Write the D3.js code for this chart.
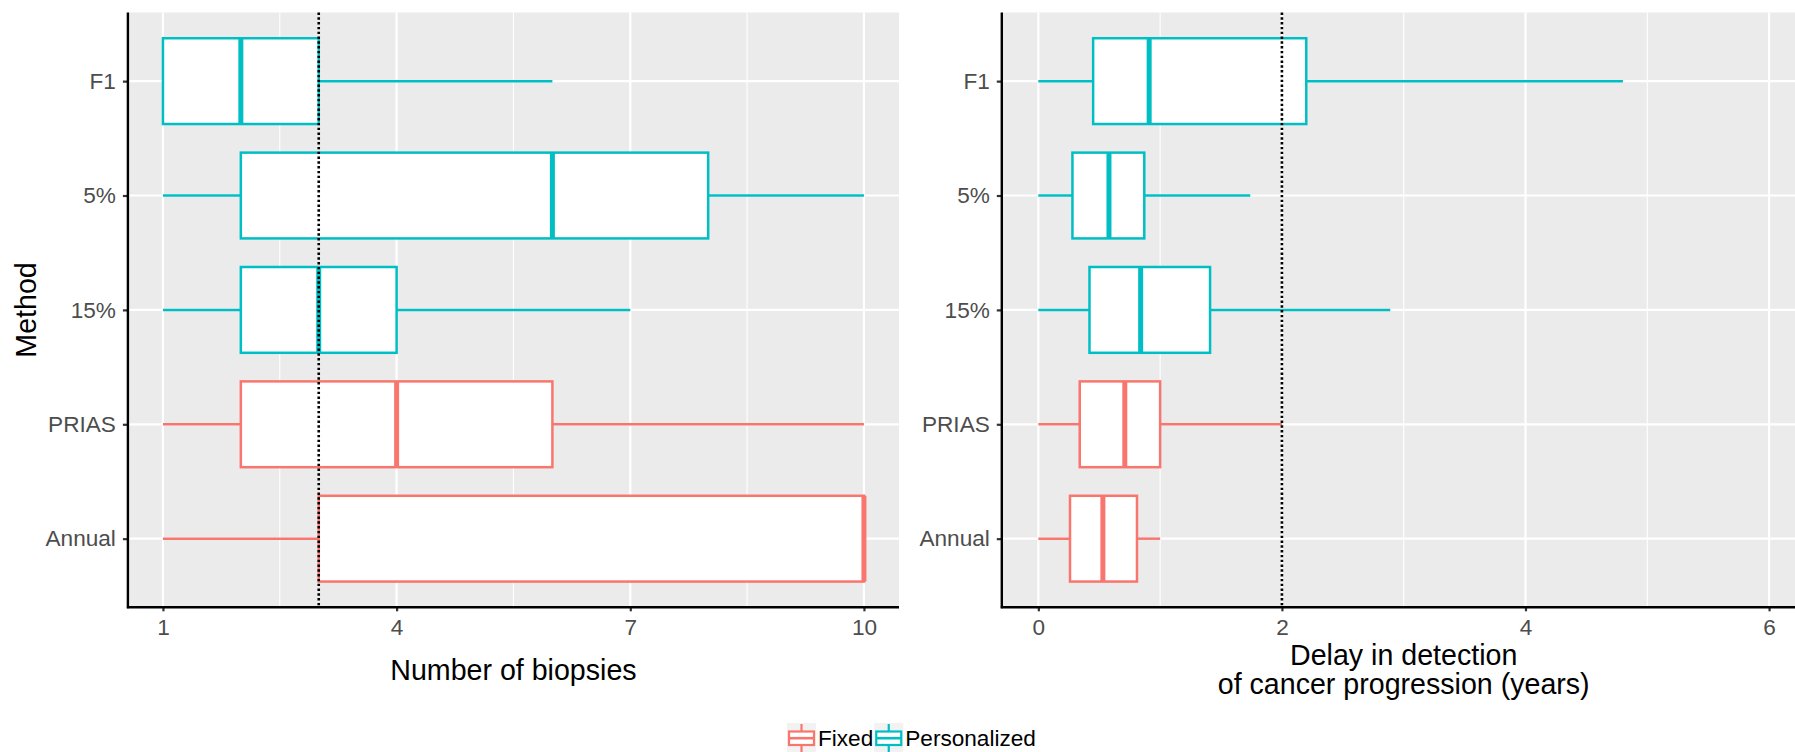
<!DOCTYPE html>
<html>
<head>
<meta charset="utf-8">
<script src="https://cdn.jsdelivr.net/npm/d3@7"></script>
<style>
  html, body { margin: 0; padding: 0; background: #fff; }
  svg { display: block; font-family: "Liberation Sans", Arial, Helvetica, sans-serif; }
</style>
</head>
<body>
<svg id="chart" width="1795" height="752"></svg>
<script>
// ---- data ----
const methods = ["F1", "5%", "15%", "PRIAS", "Annual"];
const methodGroup = ["Personalized", "Personalized", "Personalized", "Fixed", "Fixed"];
const groups = ["Fixed", "Personalized"];
const groupColors = ["#F8766D", "#00BFC4"];

// [min, q1, median, q3, max] per method
const biopsyStats = [
  [1, 1, 2, 3, 6],
  [1, 2, 6, 8, 10],
  [1, 2, 3, 4, 7],
  [1, 2, 4, 6, 10],
  [1, 3, 10, 10, 10]
];
const delayStats = [
  [0, 0.45, 0.91, 2.2, 4.8],
  [0, 0.28, 0.58, 0.87, 1.74],
  [0, 0.42, 0.84, 1.41, 2.89],
  [0, 0.34, 0.71, 1.0, 2.0],
  [0, 0.26, 0.53, 0.81, 1.0]
];
const biopsyTicks = [1, 4, 7, 10];
const biopsyMinor = [2.5, 5.5, 8.5];
const biopsyDomain = [0.55, 10.45];
const biopsyRef = 3;
const delayTicks = [0, 2, 4, 6];
const delayMinor = [1, 3, 5];
const delayDomain = [-0.3, 6.3];
const delayRef = 2;

const svg = d3.select("#chart");
const color = d3.scaleOrdinal().domain(groups).range(groupColors);

const panelTop = 12.5, panelBottom = 607.3;

function panel(opts) {
  const g = svg.append("g");
  const x = d3.scaleLinear().domain(opts.domain).range([opts.x0, opts.x1]);
  const y = d3.scalePoint().domain(methods).range([panelTop, panelBottom]).padding(0.6);
  const step = y.step();

  g.append("rect").attr("x", opts.x0).attr("y", panelTop)
    .attr("width", opts.x1 - opts.x0).attr("height", panelBottom - panelTop)
    .attr("fill", "#EBEBEB");

  // minor grid
  g.selectAll(".minor").data(opts.minor).enter().append("line")
    .attr("x1", d => x(d)).attr("x2", d => x(d))
    .attr("y1", panelTop).attr("y2", panelBottom)
    .attr("stroke", "#fff").attr("stroke-width", 1.1);
  // major grid
  g.selectAll(".majorx").data(opts.ticks).enter().append("line")
    .attr("x1", d => x(d)).attr("x2", d => x(d))
    .attr("y1", panelTop).attr("y2", panelBottom)
    .attr("stroke", "#fff").attr("stroke-width", 2.2);
  g.selectAll(".majory").data(methods).enter().append("line")
    .attr("x1", opts.x0).attr("x2", opts.x1)
    .attr("y1", d => y(d)).attr("y2", d => y(d))
    .attr("stroke", "#fff").attr("stroke-width", 2.2);

  const rows = methods.map((m, i) => ({ m, grp: methodGroup[i], s: opts.stats[i] }));
  const bx = g.selectAll(".box").data(rows).enter().append("g");
  const hh = step * 0.375;
  // whiskers
  bx.append("line")
    .attr("x1", d => x(d.s[0])).attr("x2", d => x(d.s[1]))
    .attr("y1", d => y(d.m)).attr("y2", d => y(d.m))
    .attr("stroke", d => color(d.grp)).attr("stroke-width", 2.5);
  bx.append("line")
    .attr("x1", d => x(d.s[3])).attr("x2", d => x(d.s[4]))
    .attr("y1", d => y(d.m)).attr("y2", d => y(d.m))
    .attr("stroke", d => color(d.grp)).attr("stroke-width", 2.5);
  bx.append("rect")
    .attr("x", d => x(d.s[1])).attr("width", d => x(d.s[3]) - x(d.s[1]))
    .attr("y", d => y(d.m) - hh).attr("height", hh * 2)
    .attr("fill", "#fff").attr("stroke", d => color(d.grp)).attr("stroke-width", 2.5);
  bx.append("line")
    .attr("x1", d => x(d.s[2])).attr("x2", d => x(d.s[2]))
    .attr("y1", d => y(d.m) - hh).attr("y2", d => y(d.m) + hh)
    .attr("stroke", d => color(d.grp)).attr("stroke-width", 5);

  // reference line
  g.append("line")
    .attr("x1", x(opts.ref)).attr("x2", x(opts.ref))
    .attr("y1", panelTop).attr("y2", panelBottom)
    .attr("stroke", "#000").attr("stroke-width", 2.6)
    .attr("stroke-dasharray", "2.4,2.4");

  // axes
  const xa = g.append("g").attr("transform", `translate(0,${panelBottom})`)
    .call(d3.axisBottom(x).tickValues(opts.ticks).tickFormat(d3.format("d"))
      .tickSizeInner(4).tickSizeOuter(0).tickPadding(7.5));
  const ya = g.append("g").attr("transform", `translate(${opts.x0},0)`)
    .call(d3.axisLeft(y).tickSizeInner(5).tickSizeOuter(0).tickPadding(7));
  [xa, ya].forEach(a => {
    a.select(".domain").remove();
    a.selectAll(".tick line").attr("stroke", "#333").attr("stroke-width", 2.2);
    a.selectAll(".tick text").attr("fill", "#4D4D4D")
      .style("font-size", "22.6px").style("font-family", "Liberation Sans, Arial, sans-serif");
  });
  g.append("line").attr("x1", opts.x0).attr("x2", opts.x0)
    .attr("y1", panelTop).attr("y2", panelBottom + 1).attr("stroke", "#000").attr("stroke-width", 2.4);
  g.append("line").attr("x1", opts.x0 - 1).attr("x2", opts.x1)
    .attr("y1", panelBottom).attr("y2", panelBottom).attr("stroke", "#000").attr("stroke-width", 2.4);

  // x title
  const cx = (opts.x0 + opts.x1) / 2;
  opts.title.forEach((t, i) => {
    g.append("text").attr("x", cx).attr("y", opts.titleY[i])
      .attr("text-anchor", "middle").attr("fill", "#000")
      .style("font-size", "28.6px").text(t);
  });
  return g;
}

panel({ x0: 127.9, x1: 899, domain: biopsyDomain, ticks: biopsyTicks, minor: biopsyMinor,
  stats: biopsyStats, ref: biopsyRef, title: ["Number of biopsies"], titleY: [680] });
panel({ x0: 1001.8, x1: 1805.6, domain: delayDomain, ticks: delayTicks, minor: delayMinor,
  stats: delayStats, ref: delayRef,
  title: ["Delay in detection", "of cancer progression (years)"], titleY: [665, 694] });

// y title
svg.append("text").attr("transform", "translate(36,310) rotate(-90)")
  .attr("text-anchor", "middle").style("font-size", "28.6px").attr("fill", "#000").text("Method");

// legend
const leg = svg.append("g");
const keyW = 29, keyY = 723;
let lx = 787;
groups.forEach((gname, i) => {
  const k = leg.append("g").attr("transform", `translate(${lx},${keyY})`);
  k.append("rect").attr("width", keyW).attr("height", 29).attr("fill", "#F2F2F2");
  const c = groupColors[i];
  k.append("line").attr("x1", keyW / 2).attr("x2", keyW / 2).attr("y1", 1).attr("y2", 29)
    .attr("stroke", c).attr("stroke-width", 2.2);
  k.append("rect").attr("x", 2).attr("y", 8.5).attr("width", keyW - 4).attr("height", 13.5)
    .attr("fill", "#fff").attr("stroke", c).attr("stroke-width", 2.2);
  k.append("line").attr("x1", 2).attr("x2", keyW - 2).attr("y1", 15.2).attr("y2", 15.2)
    .attr("stroke", c).attr("stroke-width", 2.6);
  const t = leg.append("text").attr("x", lx + keyW + 2).attr("y", 746)
    .style("font-size", "22.6px").attr("fill", "#000").text(gname);
  lx = lx + keyW + 2 + t.node().getComputedTextLength() + 1;
});
</script>
</body>
</html>
